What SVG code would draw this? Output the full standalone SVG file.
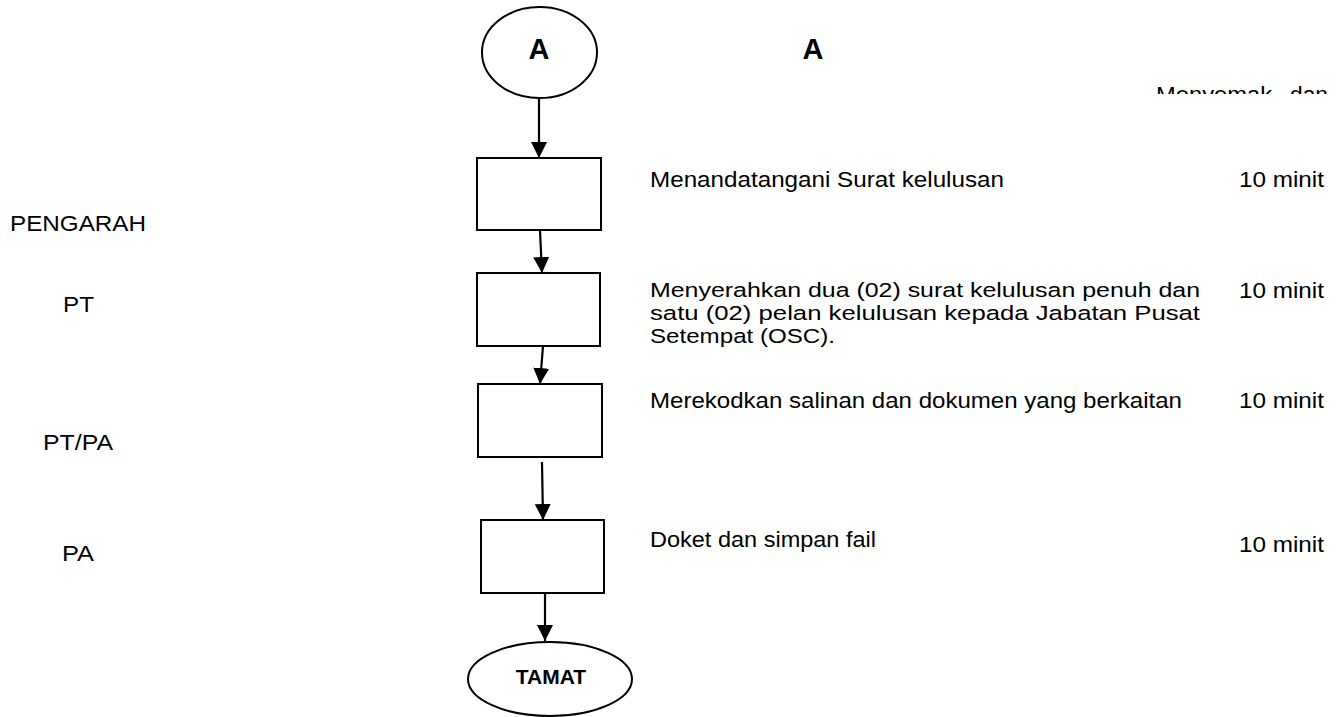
<svg xmlns="http://www.w3.org/2000/svg" width="1336" height="717" viewBox="0 0 1336 717">
  <style>
    .t { font-family: "Liberation Sans", Arial, sans-serif; font-size: 22px; fill: #000; }
    .p { font-family: "Liberation Sans", Arial, sans-serif; font-size: 20.5px; fill: #000; }
    .b { font-family: "Liberation Sans", Arial, sans-serif; font-weight: bold; fill: #000; }
    .shape { fill: #fff; stroke: #000; stroke-width: 2; }
    .conn { stroke: #000; stroke-width: 2.2; fill: none; marker-end: url(#arrow); }
  </style>
  <defs>
    <marker id="arrow" markerUnits="userSpaceOnUse" markerWidth="16" markerHeight="16" refX="16" refY="8" orient="auto">
      <path d="M0,0 L16,8 L0,16 Z" fill="#000"/>
    </marker>
    <clipPath id="topClip">
      <rect x="1100" y="70" width="236" height="24"/>
    </clipPath>
  </defs>
  <rect width="1336" height="717" fill="#fff"/>

  <!-- role labels -->
  <g id="roles">
    <text class="t" x="10" y="231" textLength="136" lengthAdjust="spacingAndGlyphs">PENGARAH</text>
    <text class="t" x="63" y="312" textLength="31" lengthAdjust="spacingAndGlyphs">PT</text>
    <text class="t" x="43" y="450" textLength="70" lengthAdjust="spacingAndGlyphs">PT/PA</text>
    <text class="t" x="62" y="561" textLength="32" lengthAdjust="spacingAndGlyphs">PA</text>
  </g>

  <!-- connectors -->
  <g id="connectors">
    <line class="conn" x1="539" y1="98" x2="539" y2="158"/>
    <line class="conn" x1="540" y1="231" x2="542" y2="273"/>
    <line class="conn" x1="543" y1="346" x2="540" y2="384"/>
    <line class="conn" x1="542" y1="462" x2="543" y2="520"/>
    <line class="conn" x1="545" y1="593" x2="545" y2="641"/>
  </g>

  <!-- flow nodes -->
  <g id="start-a">
    <ellipse class="shape" cx="539.5" cy="52.5" rx="57.5" ry="45.5"/>
    <text class="b" x="539" y="59" font-size="29" text-anchor="middle">A</text>
  </g>
  <g id="step-1">
    <rect class="shape" x="477" y="158" width="124" height="72"/>
  </g>
  <g id="step-2">
    <rect class="shape" x="477" y="273" width="123" height="73"/>
  </g>
  <g id="step-3">
    <rect class="shape" x="478" y="384" width="124" height="73"/>
  </g>
  <g id="step-4">
    <rect class="shape" x="481" y="520" width="123" height="73"/>
  </g>
  <g id="end-tamat">
    <ellipse class="shape" cx="550" cy="679" rx="82" ry="37"/>
    <text class="b" x="551" y="684" font-size="21" text-anchor="middle">TAMAT</text>
  </g>

  <!-- header -->
  <text class="b" x="813" y="59" font-size="29" text-anchor="middle">A</text>
  <text class="t" y="102" clip-path="url(#topClip)"><tspan x="1156" textLength="116" lengthAdjust="spacingAndGlyphs">Menyemak</tspan><tspan x="1290" textLength="38" lengthAdjust="spacingAndGlyphs">dan</tspan></text>

  <!-- step descriptions -->
  <g id="descriptions">
    <text class="t" x="650" y="187" textLength="354" lengthAdjust="spacingAndGlyphs">Menandatangani Surat kelulusan</text>
    <text class="p" x="650" y="297" textLength="550" lengthAdjust="spacingAndGlyphs">Menyerahkan dua (02) surat kelulusan penuh dan</text>
    <text class="p" x="650" y="320" textLength="550" lengthAdjust="spacingAndGlyphs">satu (02) pelan kelulusan kepada Jabatan Pusat</text>
    <text class="p" x="650" y="343" textLength="185" lengthAdjust="spacingAndGlyphs">Setempat (OSC).</text>
    <text class="t" x="650" y="408" textLength="532" lengthAdjust="spacingAndGlyphs">Merekodkan salinan dan dokumen yang berkaitan</text>
    <text class="t" x="650" y="547" textLength="226" lengthAdjust="spacingAndGlyphs">Doket dan simpan fail</text>
  </g>

  <!-- durations -->
  <g id="durations">
    <text class="t" x="1239" y="187" textLength="85" lengthAdjust="spacingAndGlyphs">10 minit</text>
    <text class="t" x="1239" y="298" textLength="85" lengthAdjust="spacingAndGlyphs">10 minit</text>
    <text class="t" x="1239" y="408" textLength="85" lengthAdjust="spacingAndGlyphs">10 minit</text>
    <text class="t" x="1239" y="552" textLength="85" lengthAdjust="spacingAndGlyphs">10 minit</text>
  </g>
</svg>
